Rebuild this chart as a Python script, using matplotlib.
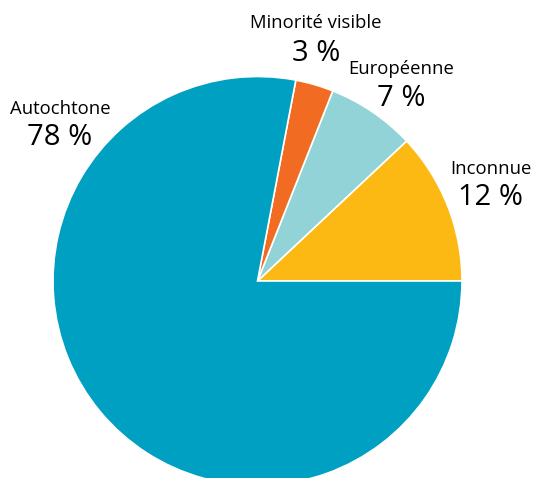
import matplotlib.pyplot as plt

# pie data
labels = ['Inconnue', 'Européenne', 'Minorité visible', 'Autochtone']
values = [12, 7, 3, 78]
colors = ['#FDB913', '#92D3D8', '#F26B22', '#00A0C3']

# label positions in pixels (x centre, name baseline, percent baseline)
label_x = [491, 401, 316, 60]
name_y = [174, 74, 28, 114]
pct_y = [205, 106, 61, 145]

W, H = 534, 478
fig = plt.figure(figsize=(W / 100, H / 100), dpi=100)
ax = fig.add_axes([0, 0, 1, 1])

ax.pie(values, colors=colors, startangle=0, counterclock=True,
       center=(257.5, H - 281), radius=204.5,
       wedgeprops=dict(edgecolor='white', linewidth=1.2))
ax.set_xlim(0, W)
ax.set_ylim(0, H)
ax.set_aspect('equal')
ax.axis('off')

for lab, v, x, ny, py in zip(labels, values, label_x, name_y, pct_y):
    ax.text(x, H - ny, lab, ha='center', va='baseline', fontsize=13.3,
            family='Open Sans', color='black')
    ax.text(x, H - py, f'{v} %', ha='center', va='baseline', fontsize=21,
            family='Open Sans', color='black')

fig.savefig('out.png', dpi=100)
